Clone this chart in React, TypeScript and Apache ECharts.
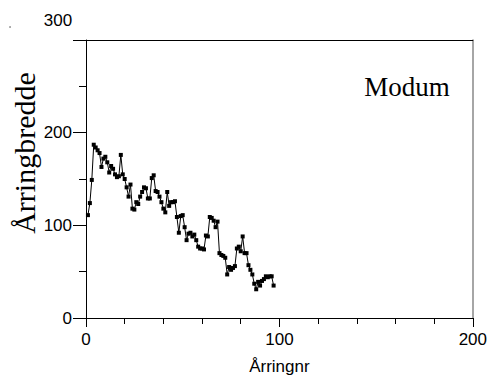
import React, { useEffect, useRef } from "react";
import * as echarts from "echarts";

const ringNumbers: number[] = Array.from({ length: 97 }, (_, k) => k + 1);
const ringWidths: number[] = [
  111, 124, 149, 187, 184, 181, 178, 163, 172, 174,
  168, 157, 164, 161, 155, 152, 153, 176, 155, 150,
  141, 131, 144, 118, 117, 125, 123, 131, 136, 141,
  140, 129, 129, 151, 154, 137, 136, 131, 125, 118,
  114, 136, 121, 125, 125, 126, 109, 92, 110, 111,
  98, 84, 91, 92, 88, 90, 84, 77, 75, 75,
  74, 89, 88, 109, 108, 105, 98, 104, 70, 68,
  67, 65, 47, 55, 52, 54, 56, 75, 77, 72,
  88, 70, 70, 57, 52, 47, 37, 31, 39, 35,
  40, 42, 45, 44, 45, 45, 35,
];
const xTicks = [0, 100, 200];
const yTicks = [0, 100, 200, 300];
const title = "Modum";
const xName = "Årringnr";
const yName = "Årringbredde";

export default function App() {
  const ref = useRef<HTMLDivElement>(null);
  useEffect(() => {
    if (!ref.current) return;
    const chart = echarts.init(ref.current, undefined, { renderer: "svg" });
    const sans = "Liberation Sans, Arial, sans-serif";
    const serif = "Liberation Serif, Times New Roman, serif";
    chart.setOption({
      animation: false,
      grid: { left: 86, top: 40, width: 387, height: 280, containLabel: false },
      xAxis: [
        {
          type: "value",
          min: xTicks[0],
          max: xTicks[xTicks.length - 1],
          interval: 100,
          position: "bottom",
          axisLine: { show: true, lineStyle: { color: "#000", width: 1 } },
          axisTick: { show: true, inside: false, length: 9, lineStyle: { color: "#000", width: 1 } },
          minorTick: { show: true, splitNumber: 5, length: 6, lineStyle: { color: "#000", width: 1 } },
          splitLine: { show: false },
          axisLabel: { color: "#000", fontFamily: sans, fontSize: 17, margin: 13 },
          name: xName,
          nameLocation: "middle",
          nameGap: 40,
          nameTextStyle: { color: "#000", fontFamily: sans, fontSize: 17 },
        },
        {
          type: "value",
          min: 0,
          max: 200,
          position: "top",
          axisLine: { show: true, onZero: false, lineStyle: { color: "#000", width: 1 } },
          axisTick: { show: false },
          axisLabel: { show: false },
          splitLine: { show: false },
        },
      ],
      yAxis: [
        {
          type: "value",
          min: yTicks[0],
          max: yTicks[yTicks.length - 1],
          interval: 100,
          position: "left",
          axisLine: { show: true, lineStyle: { color: "#000", width: 1 } },
          axisTick: { show: true, inside: false, length: 13, lineStyle: { color: "#000", width: 1 } },
          minorTick: { show: true, splitNumber: 2, length: 7, lineStyle: { color: "#000", width: 1 } },
          splitLine: { show: false },
          axisLabel: {
            color: "#000",
            fontFamily: sans,
            fontSize: 17,
            margin: 14,
            padding: [5, 0, 0, 0],
            formatter: (v: number) => (v === 300 ? "" : String(v)),
          },
        },
        {
          type: "value",
          min: 0,
          max: 300,
          position: "right",
          axisLine: { show: true, onZero: false, lineStyle: { color: "#888", width: 1.5 } },
          axisTick: { show: false },
          axisLabel: { show: false },
          splitLine: { show: false },
        },
      ],
      graphic: [
        {
          type: "text",
          x: 58,
          y: 20,
          style: {
            text: String(yTicks[3]),
            fill: "#000",
            font: `17px ${sans}`,
            align: "center",
            verticalAlign: "middle",
          },
        },
        {
          type: "text",
          x: 24,
          y: 153,
          rotation: Math.PI / 2,
          style: {
            text: yName,
            fill: "#000",
            font: `30px ${serif}`,
            align: "center",
            verticalAlign: "middle",
          },
        },
        {
          type: "text",
          x: 407,
          y: 87,
          style: {
            text: title,
            fill: "#000",
            font: `27px ${serif}`,
            align: "center",
            verticalAlign: "middle",
          },
        },
        {
          type: "circle",
          shape: { cx: 10, cy: 27, r: 0.7 },
          style: { fill: "#333" },
        },
      ],
      series: [
        {
          type: "line",
          xAxisIndex: 0,
          yAxisIndex: 0,
          data: ringNumbers.map((x, i) => [x, ringWidths[i]]),
          symbol: "rect",
          symbolSize: 4,
          showSymbol: true,
          lineStyle: { color: "#000", width: 1 },
          itemStyle: { color: "#000" },
          silent: true,
        },
      ],
    });
    return () => chart.dispose();
  }, []);
  return (
    <div
      ref={ref}
      style={{ position: "fixed", left: 0, top: 0, width: 490, height: 380, background: "#fff" }}
    />
  );
}
